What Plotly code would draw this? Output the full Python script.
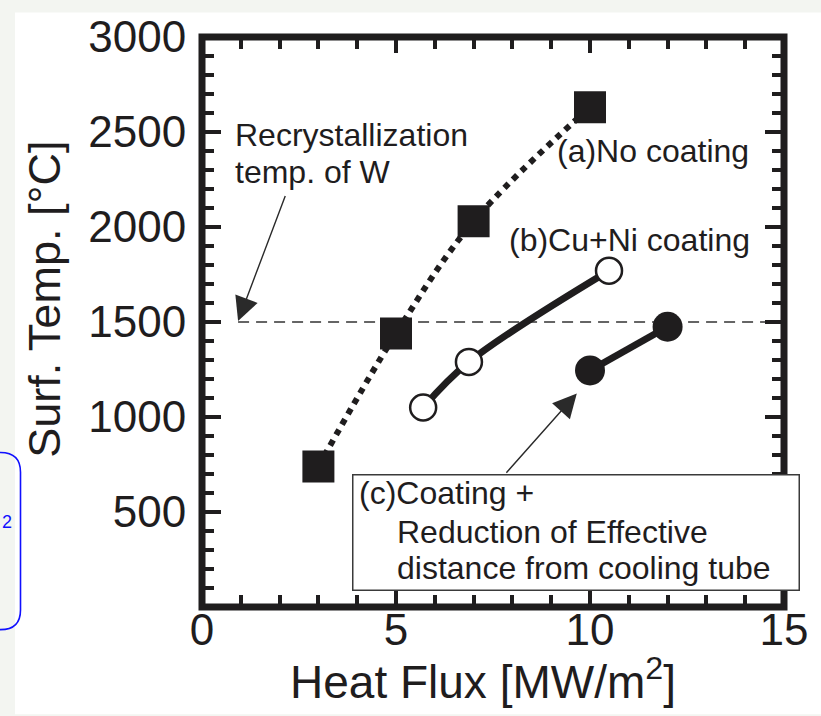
import plotly.graph_objects as go

# ---------------- data ----------------
flux_a = [3.0, 5.0, 7.0, 10.0]
temp_a = [740, 1440, 2030, 2630]
flux_b = [5.7, 6.88, 10.49]
temp_b = [1050, 1290, 1770]
flux_c = [10.0, 12.0]
temp_c = [1245, 1475]
recryst_temp = 1500

x_tickvals = [0, 5, 10, 15]
x_ticktext = ["0", "5", "10", "15"]
y_tickvals = [0, 500, 1000, 1500, 2000, 2500, 3000]
y_ticktext = ["", "500", "1000", "1500", "2000", "2500", "3000"]

# ---------------- layout constants ----------------
W, H = 821, 716
ML, MR, MT, MB = 202, 37, 28, 109
PW, PH = W - ML - MR, H - MT - MB
FONT = "Liberation Sans, Arial, Helvetica, sans-serif"
INK = "#1f1d1e"


def px(xp, yp):
    """pixel position -> paper coordinates"""
    return (xp - ML) / PW, (H - MB - yp) / PH


fig = go.Figure()

fig.add_trace(go.Scatter(
    x=flux_a, y=temp_a, mode="lines+markers", name="(a)No coating",
    line=dict(color=INK, width=6, dash="dot", shape="spline"),
    marker=dict(symbol="square", size=32, color=INK, line=dict(width=0)),
    cliponaxis=False,
))
fig.add_trace(go.Scatter(
    x=flux_b, y=temp_b, mode="lines+markers", name="(b)Cu+Ni coating",
    line=dict(color=INK, width=7, shape="spline"),
    marker=dict(symbol="circle", size=26, color="white", line=dict(width=2.5, color=INK)),
    cliponaxis=False,
))
fig.add_trace(go.Scatter(
    x=flux_c, y=temp_c, mode="lines+markers", name="(c)Coating",
    line=dict(color=INK, width=7),
    marker=dict(symbol="circle", size=30, color=INK, line=dict(width=0)),
    cliponaxis=False,
))

shapes = []
# page background areas
x0, y0 = px(15, 3)
x1, y1 = px(W, H)
shapes.append(dict(type="rect", xref="paper", yref="paper", x0=x0, y0=y0, x1=x1, y1=y1,
                   fillcolor="white", line=dict(width=0), layer="below"))
# recrystallization temperature dashed line
shapes.append(dict(type="line", xref="x", yref="y", x0=0.93, x1=15, y0=recryst_temp, y1=recryst_temp,
                   line=dict(color="#333333", width=1.6, dash="11px,7px"), layer="below"))
# thick frame centred on the plot-area edges
shapes.append(dict(type="rect", xref="paper", yref="paper", x0=0, y0=0, x1=1, y1=1,
                   line=dict(color=INK, width=7), fillcolor="rgba(0,0,0,0)", layer="above"))


# blue rounded box at left edge
def pp(xp, yp):
    a, b = px(xp, yp)
    return f"{a:.5f},{b:.5f}"


path = ("M" + pp(-30, 450) + " L" + pp(0.5, 450) + " Q" + pp(20.5, 450) + " " + pp(20.5, 470) +
        " L" + pp(20.5, 610) + " Q" + pp(20.5, 630) + " " + pp(0.5, 630) + " L" + pp(-30, 630))
shapes.append(dict(type="path", xref="paper", yref="paper", path=path,
                   line=dict(color="#1010ff", width=1.6)))

annotations = []


def text(s, xp, yp, size=32, xanchor="left", color=INK, **kw):
    a, b = px(xp, yp)
    annotations.append(dict(text=s, x=a, y=b, xref="paper", yref="paper", showarrow=False,
                            xanchor=xanchor, yanchor="middle", font=dict(family=FONT, size=size, color=color),
                            **kw))


# box for (c)
bx, by = px(352, 472)
annotations.append(dict(text="\u00a0", x=bx, y=by, xref="paper", yref="paper", showarrow=False,
                        xanchor="left", yanchor="top", width=445, height=114, bgcolor="white",
                        bordercolor="#3a3a3a", borderwidth=1.5, borderpad=0,
                        font=dict(family=FONT, size=10)))

text("Recrystallization", 233, 128)
text("temp. of W", 233, 165)
text("(a)No coating", 555, 144)
text("(b)Cu+Ni coating", 507, 234)
text("(c)Coating +", 357, 491)
text("Reduction of Effective", 395, 531)
text("distance from cooling tube", 395, 567)

# arrows
annotations.append(dict(text="", x=0.93, y=1505, ax=2.16, ay=2171, xref="x", yref="y", axref="x", ayref="y",
                        showarrow=True, arrowhead=2, arrowsize=3.4, arrowwidth=1.4, arrowcolor="#2a2a2a",
                        standoff=0, startstandoff=0, font=dict(size=1)))
annotations.append(dict(text="", x=9.66, y=1124, ax=7.81, ay=699, xref="x", yref="y", axref="x", ayref="y",
                        showarrow=True, arrowhead=2, arrowsize=3.4, arrowwidth=1.4, arrowcolor="#2a2a2a",
                        standoff=0, startstandoff=0, font=dict(size=1)))

# axis titles
text("Heat Flux [MW/m<sup>2</sup>]", 483, 680, size=46, xanchor="center")
a, b = px(45, 295)
annotations.append(dict(text="Surf. Temp. [°C]", x=a, y=b, xref="paper", yref="paper", showarrow=False,
                        textangle=-90, xanchor="center", yanchor="middle",
                        font=dict(family=FONT, size=45, color=INK)))
# blue "2" at left edge
text("2", 0, 521, size=18, color="#1010ff")

axis_common = dict(
    showline=True, linewidth=1, linecolor=INK, mirror="allticks",
    ticks="inside", tickwidth=4, tickcolor=INK, showgrid=False, zeroline=False,
    tickfont=dict(family=FONT, size=44, color=INK),
)

fig.update_xaxes(range=[0, 15], tickmode="array", tickvals=x_tickvals, ticktext=x_ticktext,
                 ticklen=16, ticklabelstandoff=-16,
                 minor=dict(dtick=1, tick0=0, ticks="inside", ticklen=12, tickwidth=4, tickcolor=INK,
                            showgrid=False),
                 **axis_common)
fig.update_yaxes(range=[0, 3000], tickmode="array", tickvals=y_tickvals, ticktext=y_ticktext,
                 ticklen=19, ticklabelstandoff=6,
                 minor=dict(dtick=100, tick0=0, ticks="inside", ticklen=12, tickwidth=4, tickcolor=INK,
                            showgrid=False),
                 **axis_common)

fig.update_layout(
    width=W, height=H, autosize=False,
    margin=dict(l=ML, r=MR, t=MT, b=MB, pad=0),
    paper_bgcolor="#f3f5f1", plot_bgcolor="white",
    showlegend=False,
    shapes=shapes, annotations=annotations,
    font=dict(family=FONT, color=INK),
)

fig.write_html("out.html", include_plotlyjs=True, config={"displayModeBar": False})
